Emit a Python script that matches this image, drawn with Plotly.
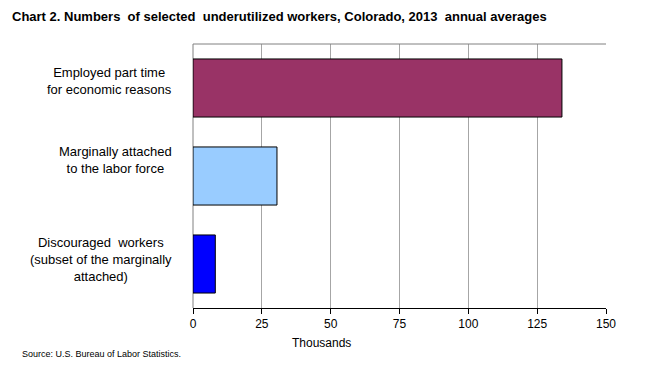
import plotly.graph_objects as go

categories = ["Employed part time<br>for economic reasons",
              "Marginally attached<br>to the labor force",
              "Discouraged  workers<br>(subset of the marginally<br>attached)"]
values = [134.0, 30.5, 8.1]
colors = ["#993366", "#99CCFF", "#0000FF"]
tick_vals = [0, 25, 50, 75, 100, 125, 150]
title_text = "Chart 2. Numbers  of selected  underutilized workers, Colorado, 2013  annual averages"
source_text = "Source: U.S. Bureau of Labor Statistics."
x_title = "Thousands"

L, R, T, B = 193, 44, 44, 57
W, H = 650, 365
pw = W - L - R
ph = H - T - B
FONT = "Liberation Sans, Arial, sans-serif"

fig = go.Figure()
fig.add_trace(go.Bar(
    y=list(range(len(categories))), x=values, orientation="h",
    marker=dict(color=colors, line=dict(color="black", width=1)),
    width=0.66, hoverinfo="x",
))

yshifts = [7, 16, 5]
for i, (c, ys) in enumerate(zip(categories, yshifts)):
    fig.add_annotation(
        x=(174 - L) / pw, xref="paper", y=i, yref="y",
        text=c, showarrow=False, xanchor="right", yanchor="middle",
        align="center", yshift=ys,
        font=dict(family=FONT, size=13, color="black"),
    )

fig.add_annotation(
    x=(321 - L) / pw, xref="paper", y=-(343 - (H - B)) / ph, yref="paper",
    text=x_title, showarrow=False, xanchor="center", yanchor="middle",
    font=dict(family=FONT, size=12, color="black"),
)

fig.add_annotation(
    x=(20 - L) / pw, xref="paper", y=-(354 - (H - B)) / ph, yref="paper",
    text=source_text, showarrow=False, xanchor="left", yanchor="middle",
    font=dict(family=FONT, size=9, color="black"),
)

fig.add_shape(type="line", xref="paper", yref="paper", x0=0, x1=1, y0=1, y1=1,
              line=dict(color="#808080", width=1))
fig.add_shape(type="line", xref="paper", yref="paper", x0=0, x1=0, y0=0, y1=1,
              line=dict(color="#808080", width=1), layer="below")

fig.update_layout(
    width=W, height=H,
    margin=dict(l=L, r=R, t=T, b=B),
    paper_bgcolor="white", plot_bgcolor="white",
    showlegend=False,
    title=dict(text="<b>" + title_text + "</b>", x=12 / W, xanchor="left",
               y=1 - 16 / H, yanchor="middle",
               font=dict(family=FONT, size=13, color="black")),
    xaxis=dict(range=[0, 150], tickvals=tick_vals, ticktext=[str(v) for v in tick_vals],
               showgrid=True, gridcolor="#A6A6A6", gridwidth=1,
               showline=True, linecolor="black", linewidth=1,
               ticks="outside", ticklen=5, tickcolor="black",
               zeroline=False,
               tickfont=dict(family=FONT, size=12, color="black")),
    yaxis=dict(range=[2.5, -0.5], showticklabels=False, showgrid=False,
               zeroline=False, showline=False, fixedrange=True),
)

fig.write_html("out.html", config={"displayModeBar": False},
               post_script="document.body.style.margin='0';")
